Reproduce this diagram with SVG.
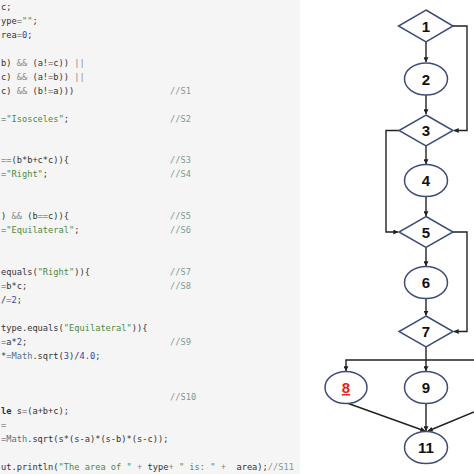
<svg xmlns="http://www.w3.org/2000/svg" width="474" height="474" viewBox="0 0 474 474">
<style>
.code{font-family:"DejaVu Sans Mono","Liberation Mono",monospace;font-size:8.7px;fill:#333;white-space:pre}
.op{fill:#8a8a8a}
.str{fill:#4e8a3e}
.num{fill:#2a48a8}
.cm{fill:#7f9a92}
.kw{fill:#1f2a55;font-weight:bold}
.cls{fill:#5a7088}
.node{fill:#fff;stroke:#3e4c7c;stroke-width:1.5}
.lbl{font-family:"Liberation Sans",Arial,sans-serif;font-size:15px;font-weight:bold;fill:#111;text-anchor:middle}
.edge{fill:none;stroke:#222;stroke-width:1.4}
</style>
<defs>
<marker id="ah" viewBox="0 0 8 8" refX="7.5" refY="4" markerWidth="5" markerHeight="5" orient="auto" markerUnits="userSpaceOnUse">
<path d="M0,0 L8,4 L0,8 z" fill="#222"/>
</marker>
</defs>
<rect x="0" y="0" width="300" height="474" fill="#f5f5f5"/>
<rect x="300" y="0" width="174" height="474" fill="#fff"/>
<g id="code">
<text class="code" x="1" y="10">c;</text>
<text class="code" x="1" y="24">ype<tspan class="op">=</tspan><tspan class="str">""</tspan>;</text>
<text class="code" x="1" y="38">rea<tspan class="op">=</tspan><tspan class="num">0</tspan>;</text>
<text class="code" x="1" y="66">b) <tspan class="op">&amp;&amp;</tspan> (a!<tspan class="op">=</tspan>c)) <tspan class="op">||</tspan></text>
<text class="code" x="1" y="80">c) <tspan class="op">&amp;&amp;</tspan> (a!<tspan class="op">=</tspan>b)) <tspan class="op">||</tspan></text>
<text class="code" x="1" y="94">c) <tspan class="op">&amp;&amp;</tspan> (b!<tspan class="op">=</tspan>a)))</text>
<text class="code" x="1" y="122"><tspan class="op">=</tspan><tspan class="str">"Isosceles"</tspan>;</text>
<text class="code" x="1" y="163"><tspan class="op">==</tspan>(b*b+c*c)){</text>
<text class="code" x="1" y="177"><tspan class="op">=</tspan><tspan class="str">"Right"</tspan>;</text>
<text class="code" x="1" y="219">) <tspan class="op">&amp;&amp;</tspan> (b<tspan class="op">==</tspan>c)){</text>
<text class="code" x="1" y="233"><tspan class="op">=</tspan><tspan class="str">"Equilateral"</tspan>;</text>
<text class="code" x="1" y="275">equals(<tspan class="str">"Right"</tspan>)){</text>
<text class="code" x="1" y="289"><tspan class="op">=</tspan>b*c;</text>
<text class="code" x="1" y="303">/<tspan class="op">=</tspan><tspan class="num">2</tspan>;</text>
<text class="code" x="1" y="331">type.equals(<tspan class="str">"Equilateral"</tspan>)){</text>
<text class="code" x="1" y="345"><tspan class="op">=</tspan>a*<tspan class="num">2</tspan>;</text>
<text class="code" x="1" y="359">*<tspan class="op">=</tspan><tspan class="cls">Math</tspan>.sqrt(<tspan class="num">3</tspan>)/<tspan class="num">4.0</tspan>;</text>
<text class="code" x="1" y="414"><tspan class="kw">le</tspan> s<tspan class="op">=</tspan>(a+b+c);</text>
<text class="code" x="1" y="428"><tspan class="op">=</tspan></text>
<text class="code" x="1" y="442"><tspan class="op">=</tspan><tspan class="cls">Math</tspan>.sqrt(s*(s-a)*(s-b)*(s-c));</text>
<text class="code" x="1" y="470">ut.println(<tspan class="str">"The area of "</tspan> <tspan class="op">+</tspan> type<tspan class="op">+</tspan> <tspan class="str">" is: "</tspan> <tspan class="op">+</tspan>  area);<tspan class="cm">//S11</tspan></text>
<text class="code cm" x="170" y="94">//S1</text>
<text class="code cm" x="170" y="122">//S2</text>
<text class="code cm" x="170" y="163">//S3</text>
<text class="code cm" x="170" y="177">//S4</text>
<text class="code cm" x="170" y="219">//S5</text>
<text class="code cm" x="170" y="233">//S6</text>
<text class="code cm" x="170" y="275">//S7</text>
<text class="code cm" x="170" y="289">//S8</text>
<text class="code cm" x="170" y="345">//S9</text>
<text class="code cm" x="170" y="400">//S10</text>
</g>
<g id="connectors">
<path class="edge" d="M426,42 V62" marker-end="url(#ah)"/>
<path class="edge" d="M426,95 V114" marker-end="url(#ah)"/>
<path class="edge" d="M453,26 H467 V130.5 H454" marker-end="url(#ah)"/>
<path class="edge" d="M426,146 V164" marker-end="url(#ah)"/>
<path class="edge" d="M399,130.5 H386 V232 H398" marker-end="url(#ah)"/>
<path class="edge" d="M426,196.5 V216" marker-end="url(#ah)"/>
<path class="edge" d="M426,247.5 V266" marker-end="url(#ah)"/>
<path class="edge" d="M453,232 H467 V331.5 H454" marker-end="url(#ah)"/>
<path class="edge" d="M426,298.5 V315.5" marker-end="url(#ah)"/>
<path class="edge" d="M426,347 V360 H346 V371" marker-end="url(#ah)"/>
<path class="edge" d="M426,360 H474"/>
<path class="edge" d="M426,360 V371" marker-end="url(#ah)"/>
<path class="edge" d="M347,403 L425,431" marker-end="url(#ah)"/>
<path class="edge" d="M426,403.5 V431" marker-end="url(#ah)"/>
<path class="edge" d="M474,412 L428,431" marker-end="url(#ah)"/>
</g>
<g id="n1"><polygon class="node" points="426,10 453,26 426,42 398.5,26"/><text class="lbl" x="426" y="31.5">1</text></g>
<g id="n2"><ellipse class="node" cx="426" cy="79" rx="21.5" ry="16"/><text class="lbl" x="426" y="84.5">2</text></g>
<g id="n3"><polygon class="node" points="426,115 453,130.5 426,146 399,130.5"/><text class="lbl" x="426" y="136">3</text></g>
<g id="n4"><ellipse class="node" cx="426" cy="180.5" rx="21.5" ry="16"/><text class="lbl" x="426" y="186">4</text></g>
<g id="n5"><polygon class="node" points="426,216.5 453,232 426,247.5 399,232"/><text class="lbl" x="426" y="237.5">5</text></g>
<g id="n6"><ellipse class="node" cx="426" cy="282.5" rx="21.5" ry="16"/><text class="lbl" x="426" y="288">6</text></g>
<g id="n7"><polygon class="node" points="426,316 453,331.5 426,347 399,331.5"/><text class="lbl" x="426" y="337">7</text></g>
<g id="n8"><ellipse class="node" cx="346" cy="387.5" rx="21" ry="16"/><text class="lbl" x="346" y="393" style="fill:#e02424;text-decoration:underline">8</text></g>
<g id="n9"><ellipse class="node" cx="426" cy="387.5" rx="21.5" ry="16"/><text class="lbl" x="426" y="393">9</text></g>
<g id="n11"><ellipse class="node" cx="426" cy="447.5" rx="21.5" ry="16"/><text class="lbl" x="426" y="453">11</text></g>
</svg>
